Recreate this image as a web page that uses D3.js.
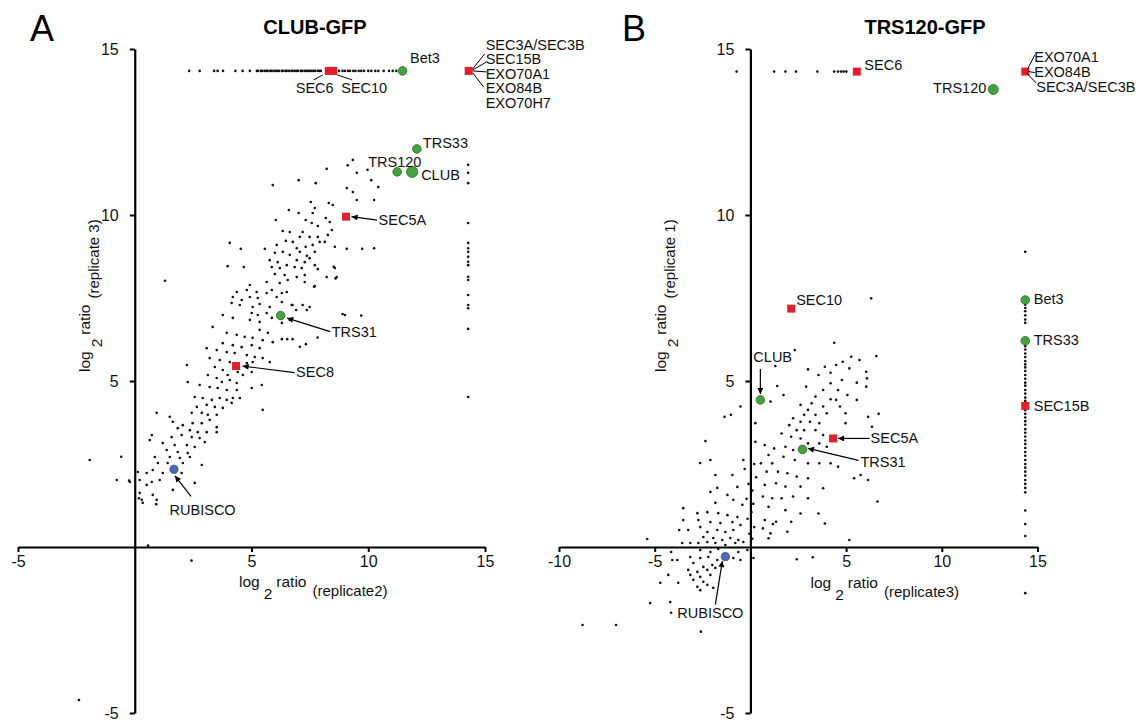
<!DOCTYPE html>
<html>
<head>
<meta charset="utf-8">
<script src="https://cdn.jsdelivr.net/npm/d3@7"></script>
<style>
  body { margin: 0; background: #fff; }
</style>
</head>
<body>
<div id="chart"></div>
<script>
// ---------- data (log2 ratios) ----------
var yDomain = [-5, 15];
var yTickValues = [-5, 5, 10, 15];
var xTicksA = [-5, 5, 10, 15];
var xTicksB = [-10, -5, 5, 10, 15];

// panel A : CLUB-GFP, replicate2 (x) vs replicate 3 (y)
var cloudA = [
  [9.34,11.66],[9.12,11.5],[8.22,11.39],[9.51,11.27],[5.91,10.9],[7.02,11.05],[7.75,10.96],[9.08,10.81],[9.34,10.69],[7.54,10.39],
  [8.31,10.36],[8.48,10.3],[7.71,10.21],[6.6,10.15],[7.02,10.06],[7.62,10.06],[9.51,10.45],[6.04,9.85],[7.32,9.85],[8.18,9.91],
  [8.35,9.79],[7.58,9.76],[7.84,9.67],[6.34,9.52],[6.64,9.49],[7.19,9.49],[8.44,9.55],[7.07,9.34],[7.49,9.34],[7.84,9.34],
  [8.27,9.4],[4.07,9.16],[4.54,8.98],[5.57,8.98],[6.08,9.1],[6.47,9.22],[6.77,9.19],[6.94,9.0],[7.32,9.04],[7.62,9.1],
  [7.92,9.19],[8.14,9.19],[8.57,9.04],[9.08,8.98],[6.0,8.86],[6.34,8.89],[6.64,8.8],[7.07,8.89],[7.37,8.77],[7.71,8.89],
  [5.78,8.64],[6.12,8.58],[6.94,8.64],[7.28,8.58],[7.49,8.7],[3.98,8.46],[4.67,8.43],[5.87,8.43],[6.21,8.4],[6.51,8.49],
  [6.85,8.43],[7.15,8.4],[7.71,8.49],[7.84,8.37],[8.57,8.4],[6.0,8.22],[6.42,8.19],[6.94,8.13],[7.28,8.19],[8.22,8.13],
  [8.65,8.13],[5.65,7.98],[6.21,7.95],[6.55,8.04],[7.28,7.98],[7.71,7.86],[4.93,7.89],[4.37,7.68],[4.8,7.74],[5.22,7.68],
  [5.65,7.65],[5.87,7.74],[6.08,7.53],[6.3,7.65],[6.51,7.68],[4.2,7.53],[4.58,7.44],[4.93,7.53],[5.27,7.5],[6.3,7.38],
  [4.15,7.35],[4.5,7.29],[5.05,7.23],[5.35,7.32],[5.78,7.23],[6.72,7.29],[7.19,7.29],[7.49,7.23],[5.01,7.05],[5.27,6.99],
  [5.65,7.05],[5.87,6.9],[3.77,6.99],[4.2,6.9],[4.93,6.84],[5.35,6.78],[6.64,6.84],[6.3,6.75],[9.0,6.99],[3.34,6.63],
  [9.97,11.36],[10.13,11.05],[10.43,10.84],[10.25,10.45],[9.74,8.98],[10.25,9.0],
  [1.3,8.02],[8.9,7.02],[9.7,6.97],[7.83,6.31],[7.33,6.11],[7.07,6.03],[6.53,6.26],[6.76,6.26],[6.3,6.26],[8.6,8.09],
  [7.68,7.84],[8.52,8.44],[7.37,7.14],[6.91,7.14],[6.76,7.29],
  [5.35,6.54],[5.7,6.45],[3.94,6.45],[4.37,6.39],[4.71,6.33],[5.05,6.3],[5.48,6.23],[5.91,6.17],[3.77,6.14],[4.2,6.08],
  [4.58,6.02],[5.01,6.08],[5.35,5.99],[3.08,5.99],[3.51,5.93],[3.94,5.87],[4.28,5.84],[4.8,5.78],[5.14,5.72],[5.48,5.69],
  [5.78,5.57],[3.21,5.69],[3.64,5.63],[4.07,5.57],[4.8,5.54],[5.05,5.57],[2.23,5.48],[3.43,5.42],[3.77,5.33],[3.98,5.18],
  [4.41,5.27],[4.63,5.18],[5.01,5.27],[3.13,5.18],[3.51,5.09],[3.73,4.97],[4.07,5.03],[4.37,4.94],[5.01,4.79],[5.44,4.88],
  [2.27,4.97],[2.78,4.88],[3.21,4.82],[3.55,4.79],[3.94,4.73],[4.37,4.73],[2.57,4.52],[2.91,4.49],[3.3,4.43],[3.64,4.49],
  [3.94,4.43],[4.2,4.49],[4.5,4.49],[2.66,4.22],[3.08,4.28],[3.43,4.22],[3.77,4.19],[4.15,4.34],[5.48,4.13],[0.94,4.04],
  [1.5,3.92],[2.44,4.04],[2.87,4.04],[3.13,3.98],[3.51,3.98],[1.63,3.77],[2.06,3.67],[2.48,3.73],[2.87,3.73],[3.21,3.83],
  [3.51,3.61],[1.84,3.58],[2.36,3.52],[2.7,3.46],[3.08,3.46],[3.51,3.46],[0.73,3.37],[1.58,3.31],[2.01,3.37],[2.44,3.31],
  [2.78,3.28],[3.0,3.16],[0.64,3.22],[1.2,3.13],[1.71,3.07],[2.23,3.07],[2.57,3.01],[1.37,2.92],[1.84,2.86],[2.27,2.83],
  [0.86,2.71],[1.5,2.71],[1.93,2.68],[2.36,2.71],[0.99,2.53],[1.41,2.53],[2.06,2.53],[2.87,2.47],[0.13,2.26],[0.51,2.23],
  [0.77,2.32],[1.2,2.23],[2.01,2.23],[0.21,2.02],[0.73,1.96],[1.07,2.02],[-0.21,1.96],[0.51,1.87],[2.57,1.93],[0.21,1.63],
  [0.77,1.57],[1.63,1.72],[0.3,1.42],[0.94,1.42],[0.34,1.33],
  [-1.93,2.62],[-0.58,2.72],[-0.77,2.02],[-0.24,2.0],[0.18,1.47],[0.92,1.29],
  [0.57,0.04],[2.43,-0.41],[-2.39,-4.61]
];
// proteins found only in the pull-down sit on the ceiling row / right column
var topLevelA = 14.34;
var topRowA = [2.33,2.78,3.4,3.55,3.78,4.31,4.62,4.93,
  5.23,5.28,5.4,5.44,5.55,5.63,5.69,5.8,5.86,5.95,6.04,6.1,6.18,6.3,6.34,6.45,6.51,6.6,6.71,6.76,6.85,6.93,
  7.0,7.12,7.16,7.27,7.35,7.41,7.5,7.58,7.66,7.72,7.83,7.9,7.97,
  8.75,8.9,9.0,9.13,9.22,9.36,9.45,9.59,9.7,9.82,10.0,10.13,10.3,10.43,10.66,10.89,11.05,11.2];
var columnXA = 14.28;
var columnA = [11.51,11.27,10.96,9.76,9.16,9.0,8.89,8.74,8.59,8.49,8.14,8.04,7.59,7.29,7.19,6.57,4.52];

// name, x, y, complex
var markersA = [
  ['SEC6', 8.31, 14.34, 'exocyst'],
  ['SEC10', 8.5, 14.34, 'exocyst'],
  ['Bet3', 11.47, 14.34, 'trapp'],
  ['SEC3A/SEC3B', 14.3, 14.34, 'exocyst'],
  ['TRS33', 12.08, 11.99, 'trapp'],
  ['TRS120', 11.24, 11.3, 'trapp'],
  ['CLUB', 11.88, 11.3, 'trapp'],
  ['SEC5A', 9.05, 9.95, 'exocyst'],
  ['TRS31', 6.25, 6.97, 'trapp'],
  ['SEC8', 4.34, 5.45, 'exocyst'],
  ['RUBISCO', 1.68, 2.34, 'rubisco']
];

// panel B : TRS120-GFP, replicate3 (x) vs replicate 1 (y)
var cloudB = [
  [6.31,7.49],[4.38,6.15],[2.32,5.93],[5.27,5.73],[5.7,5.63],[6.58,5.75],[4.82,5.58],[4.48,5.48],[3.89,5.43],[3.01,5.35],
  [1.3,5.45],[3.56,5.18],[4.19,5.25],[5.17,5.38],[6.05,5.28],[6.09,5.08],[4.19,4.93],[4.78,5.03],[5.56,4.95],[6.05,4.83],
  [2.91,4.83],[1.4,4.85],[3.8,4.73],[4.58,4.73],[5.07,4.58],[3.4,4.53],[1.73,4.58],[4.19,4.45],[4.48,4.43],[5.56,4.43],
  [1.05,4.38],[3.2,4.33],[2.62,4.28],[3.8,4.23],[4.68,4.23],[-0.52,4.23],[-1.02,3.98],[-1.35,3.92],[6.7,4.01],[6.15,3.92],
  [3.01,4.13],[2.81,3.98],[3.4,3.98],[3.99,4.03],[4.97,4.03],[2.23,3.88],[2.62,3.77],[3.11,3.77],[3.6,3.73],[4.97,3.73],
  [2.03,3.67],[2.42,3.52],[2.81,3.52],[3.4,3.52],[3.8,3.37],[0.26,3.73],[1.63,3.42],[2.13,3.32],[2.62,3.27],
  [3.01,3.12],[3.6,3.12],[3.99,3.02],[6.35,3.62],[-2.35,3.19],[0.26,3.17],[0.75,3.07],[1.24,2.97],[1.83,3.02],[2.23,2.92],
  [1.73,2.72],[2.32,2.62],[3.01,2.52],[3.6,2.52],[4.19,2.52],[4.58,2.42],[0.95,2.77],[0.55,2.52],[1.14,2.52],
  [-2.09,2.62],[-0.37,2.62],
  [0.85,2.27],[1.44,2.27],[1.93,2.22],[2.42,2.12],[3.01,2.07],[5.76,2.17],[6.15,2.02],[5.42,2.07],
  [0.75,1.87],[1.34,1.92],[1.83,1.82],[2.62,1.82],[3.8,1.77],[0.65,1.52],[1.14,1.47],[1.63,1.47],[2.23,1.52],[3.01,1.47],[6.64,1.37],
  [0.95,1.21],[1.83,1.11],[2.62,1.01],[3.56,1.01],[3.89,0.71],[0.75,0.81],[1.34,0.76],[0.65,0.56],[1.05,0.41],[1.93,0.46],
  [0.95,0.26],[5.17,0.21],
  [-2.62,2.53],[-1.83,2.17],[-0.94,2.17],[-1.73,1.78],[-2.09,1.66],[-1.2,1.57],[-0.68,1.81],[-0.89,1.42],[-0.42,1.27],[-1.83,1.33],
  [-3.51,1.17],[-2.77,1.02],[-2.25,1.05],[-1.68,1.02],[-1.2,0.96],[-0.68,0.9],[-3.51,0.81],[-2.72,0.81],[-2.09,0.75],[-1.57,0.72],
  [-0.94,0.75],[-0.52,0.66],[-3.72,0.51],[-3.25,0.51],[-2.62,0.6],[-2.25,0.45],[-1.73,0.51],[-1.31,0.45],[-0.89,0.51],[-2.46,0.3],
  [-1.94,0.27],[-1.47,0.21],[-1.05,0.27],[-0.63,0.21],[-5.39,0.24],[-3.56,0.12],[-3.14,0.12],[-2.72,0.12],[-2.25,0.15],[-1.83,0.12],
  [-1.31,0.06],[-0.79,0.12],[-0.37,0.15],[-4.14,-0.15],[-2.62,-0.09],[-2.09,-0.15],[-1.68,-0.06],[-0.63,-0.15],[-0.16,-0.09],[-3.14,-0.3],
  [-2.62,-0.33],[-2.2,-0.3],[-1.73,-0.39],[-0.89,-0.33],[-0.52,-0.39],[0.16,-0.33],[-4.08,-0.39],[-3.82,-0.39],[-2.98,-0.48],[-2.46,-0.6],
  [-1.99,-0.54],[-3.25,-0.69],[-2.77,-0.75],[-2.25,-0.69],[-1.83,-0.63],[-3.14,-0.84],[-2.62,-0.9],[-2.09,-0.84],[-4.29,-0.84],[-2.98,-0.99],
  [-2.46,-1.05],[-4.71,-1.08],[-3.77,-1.08],[-2.25,-1.14],[-2.77,-1.2],[-1.94,-1.23],[-2.62,-1.3],[-5.24,-1.69],[-4.19,-1.66],[-7.02,-2.35],
  [-4.14,-1.98],[-8.77,-2.35],[-2.59,-2.55],[2.42,-0.37],[3.26,-0.31],[2.13,0.76],[1.18,0.69],
  [-0.1,1.9],[0.1,1.7],[-0.2,1.45],[0.15,1.3],[0.05,1.05],[-0.15,0.85],[0.2,0.6],[-0.05,0.4],[0.1,0.25],[0.3,2.1],[-0.3,2.35],[0.2,2.5]
];
var topLevelB = 14.32;
var topRowB = [-0.72,1.24,1.83,2.38,3.5,4.38,4.58,4.74,4.87,5.01];
var columnXB = 14.36;
var columnB = [8.89,7.3,7.2,7.1,6.98,6.85,6.75,6.05,5.95,5.83,5.72,5.6,5.5,5.41,5.3,5.18,5.07,4.95,4.86,4.73,4.62,4.5,4.4,
  4.12,4.01,3.9,3.79,3.68,3.55,3.44,3.33,3.21,3.1,2.98,2.86,2.75,2.62,2.5,2.39,2.27,2.15,2.02,1.9,1.78,1.65,1.1,0.69,0.33,-1.39];

var markersB = [
  ['SEC6', 5.56, 14.32, 'exocyst'],
  ['EXO70A1', 14.36, 14.32, 'exocyst'],
  ['TRS120', 12.69, 13.78, 'trapp'],
  ['SEC10', 2.13, 7.18, 'exocyst'],
  ['Bet3', 14.36, 7.44, 'trapp'],
  ['TRS33', 14.36, 6.21, 'trapp'],
  ['SEC15B', 14.36, 4.25, 'exocyst'],
  ['CLUB', 0.52, 4.43, 'trapp'],
  ['SEC5A', 4.32, 3.27, 'exocyst'],
  ['TRS31', 2.72, 2.94, 'trapp'],
  ['RUBISCO', -1.31, -0.29, 'rubisco']
];

// ---------- annotation layout (pixel offsets from the marker) ----------
var labelsA = [
  { at: 'SEC6', text: 'SEC6', dx: -33, dy: 22, line: [-6, 4, -15, 9] },
  { at: 'SEC10', text: 'SEC10', dx: 8, dy: 22, line: [4, 4, 19, 9] },
  { at: 'Bet3', text: 'Bet3', dx: 7.5, dy: -8 },
  { at: 'SEC3A/SEC3B', text: 'SEC3A/SEC3B', dx: 17, dy: -21, line: [4, -2, 16, -17] },
  { at: 'SEC3A/SEC3B', text: 'SEC15B', dx: 17, dy: -6.5, line: [4, -1, 18, -9] },
  { at: 'SEC3A/SEC3B', text: 'EXO70A1', dx: 17, dy: 8, line: [4, 0, 18, 1] },
  { at: 'SEC3A/SEC3B', text: 'EXO84B', dx: 17, dy: 22.5, line: [4, 2, 15, 16] },
  { at: 'SEC3A/SEC3B', text: 'EXO70H7', dx: 17, dy: 37 },
  { at: 'TRS33', text: 'TRS33', dx: 6, dy: -1 },
  { at: 'TRS120', text: 'TRS120', dx: -29, dy: -5 },
  { at: 'CLUB', text: 'CLUB', dx: 9, dy: 8 },
  { at: 'SEC5A', text: 'SEC5A', dx: 32.5, dy: 8, arrow: [31, 3.5, 5.5, 0] },
  { at: 'TRS31', text: 'TRS31', dx: 51, dy: 21, arrow: [49.5, 16, 6.5, 2.5] },
  { at: 'SEC8', text: 'SEC8', dx: 60, dy: 11, arrow: [58.5, 6.5, 6.5, 0] },
  { at: 'RUBISCO', text: 'RUBISCO', dx: -4.4, dy: 46, arrow: [17, 27, 1, 6.5] }
];
var labelsB = [
  { at: 'SEC6', text: 'SEC6', dx: 7.5, dy: -1.5 },
  { at: 'EXO70A1', text: 'EXO70A1', dx: 9, dy: -9.5, line: [2, -2, 9.5, -16.5] },
  { at: 'EXO70A1', text: 'EXO84B', dx: 9, dy: 5.5, line: [3, 0, 9.5, 1] },
  { at: 'EXO70A1', text: 'SEC3A/SEC3B', dx: 11, dy: 20.5, line: [2, 2, 11, 11.5] },
  { at: 'TRS120', text: 'TRS120', dx: -7, dy: 3.5, anchor: 'end' },
  { at: 'Bet3', text: 'Bet3', dx: 8.5, dy: 4.5 },
  { at: 'TRS33', text: 'TRS33', dx: 8.5, dy: 4.5 },
  { at: 'SEC15B', text: 'SEC15B', dx: 8.5, dy: 5 },
  { at: 'SEC10', text: 'SEC10', dx: 5, dy: -3.5 },
  { at: 'CLUB', text: 'CLUB', dx: -7, dy: -38, arrow: [0, -31, 0, -6] },
  { at: 'SEC5A', text: 'SEC5A', dx: 37.5, dy: 4.5, arrow: [36.5, 0, 5, 0] },
  { at: 'TRS31', text: 'TRS31', dx: 58, dy: 17.5, arrow: [56, 11, 5.5, -1] },
  { at: 'RUBISCO', text: 'RUBISCO', dx: -48, dy: 61.5, arrow: [-10, 48, -3, 4.5] }
];

var FONT = "'Liberation Sans', Arial, Helvetica, sans-serif";
var colors = {
  dot: '#111',
  exocyst: '#e3202a',
  trapp: '#45a33f', trappStroke: '#24691f',
  rubisco: '#4d68b8', rubiscoStroke: '#2c4996'
};
var bigCircles = { 'A:CLUB': 5.6, 'B:TRS120': 5 };

var svg = d3.select('#chart').append('svg')
  .attr('width', 1148).attr('height', 722)
  .style('font-family', FONT);
svg.append('rect').attr('width', 1148).attr('height', 722).attr('fill', '#fff');

svg.append('defs').append('marker')
  .attr('id', 'arrowhead')
  .attr('viewBox', '0 0 10 10')
  .attr('refX', 10).attr('refY', 5)
  .attr('markerUnits', 'userSpaceOnUse')
  .attr('markerWidth', 8).attr('markerHeight', 6)
  .attr('orient', 'auto')
  .append('path').attr('d', 'M0,0L10,5L0,10Z').attr('fill', '#000');

var panels = [
  {
    id: 'A', title: 'CLUB-GFP', letterX: 30, titleX: 315,
    xDomain: [-5, 15], xRange: [18, 485], xTicks: xTicksA,
    cloud: cloudA, topLevel: topLevelA, topRow: topRowA, columnX: columnXA, column: columnA,
    markers: markersA, labels: labelsA,
    xTitle: { x: 239, y: 587, tail: '(replicate2)' },
    yTitle: { x: 90, y: 372, tail: '(replicate 3)' }
  },
  {
    id: 'B', title: 'TRS120-GFP', letterX: 622, titleX: 925,
    xDomain: [-10, 15], xRange: [559, 1037.5], xTicks: xTicksB,
    cloud: cloudB, topLevel: topLevelB, topRow: topRowB, columnX: columnXB, column: columnB,
    markers: markersB, labels: labelsB,
    xTitle: { x: 810.5, y: 588, tail: '(replicate3)' },
    yTitle: { x: 665.5, y: 372, tail: '(replicate 1)' }
  }
];

panels.forEach(drawPanel);

function drawPanel(p) {
  var x = d3.scaleLinear().domain(p.xDomain).range(p.xRange);
  var y = d3.scaleLinear().domain(yDomain).range([713, 49]);
  var g = svg.append('g').attr('class', 'panel-' + p.id);

  // panel letter + title
  g.append('text').attr('x', p.letterX).attr('y', 41)
    .attr('font-size', 36).text(p.id);
  g.append('text').attr('x', p.titleX).attr('y', 34)
    .attr('text-anchor', 'middle').attr('font-size', 20).attr('font-weight', 'bold')
    .text(p.title);

  // axes crossing at the origin
  var xAxis = g.append('g').attr('transform', 'translate(0,' + y(0) + ')')
    .call(d3.axisBottom(x).tickValues(p.xTicks).tickSize(5).tickSizeOuter(0)
      .tickPadding(4).tickFormat(function (d) { return String(d); }));
  var yAxis = g.append('g').attr('transform', 'translate(' + x(0) + ',0)')
    .call(d3.axisLeft(y).tickValues(yTickValues).tickSize(5).tickSizeOuter(0)
      .tickPadding(11).tickFormat(function (d) { return String(d); }));
  [xAxis, yAxis].forEach(function (a) {
    a.attr('font-family', FONT).attr('font-size', 16);
    a.select('.domain').attr('stroke', '#000').attr('stroke-width', 2.2);
    a.selectAll('.tick line').attr('stroke', '#000').attr('stroke-width', 2);
    a.selectAll('.tick text').attr('fill', '#111');
  });

  axisTitle(g, p.xTitle, false);
  axisTitle(g, p.yTitle, true);

  // small black dots
  var dots = p.cloud
    .concat(p.topRow.map(function (v) { return [v, p.topLevel]; }))
    .concat(p.column.map(function (v) { return [p.columnX, v]; }));
  g.append('g').selectAll('circle').data(dots).join('circle')
    .attr('cx', function (d) { return x(d[0]); })
    .attr('cy', function (d) { return y(d[1]); })
    .attr('r', 1.3)
    .attr('fill', colors.dot);

  // highlighted proteins
  var pos = {};
  p.markers.forEach(function (m) { pos[m[0]] = [x(m[1]), y(m[2])]; });

  var mg = g.append('g');
  mg.selectAll('rect').data(p.markers.filter(function (m) { return m[3] === 'exocyst'; })).join('rect')
    .attr('x', function (m) { return x(m[1]) - 4; })
    .attr('y', function (m) { return y(m[2]) - 4; })
    .attr('width', 8).attr('height', 8)
    .attr('fill', colors.exocyst);
  mg.selectAll('circle.trapp').data(p.markers.filter(function (m) { return m[3] === 'trapp'; })).join('circle')
    .attr('class', 'trapp')
    .attr('cx', function (m) { return x(m[1]); })
    .attr('cy', function (m) { return y(m[2]); })
    .attr('r', function (m) { return bigCircles[p.id + ':' + m[0]] || 4.3; })
    .attr('fill', colors.trapp).attr('stroke', colors.trappStroke).attr('stroke-width', 0.8);
  mg.selectAll('path.rubisco').data(p.markers.filter(function (m) { return m[3] === 'rubisco'; })).join('path')
    .attr('class', 'rubisco')
    .attr('transform', function (m) { return 'translate(' + x(m[1]) + ',' + y(m[2]) + ')'; })
    .attr('d', d3.symbol().type(d3.symbolCircle).size(52))
    .attr('fill', colors.rubisco).attr('stroke', colors.rubiscoStroke).attr('stroke-width', 0.8);

  // labels, leader lines and arrows
  var lg = g.append('g').attr('font-size', 14.5).attr('fill', '#111');
  p.labels.forEach(function (l) {
    var c = pos[l.at];
    if (l.line) {
      lg.append('line')
        .attr('x1', c[0] + l.line[0]).attr('y1', c[1] + l.line[1])
        .attr('x2', c[0] + l.line[2]).attr('y2', c[1] + l.line[3])
        .attr('stroke', '#000').attr('stroke-width', 1);
    }
    if (l.arrow) {
      lg.append('line')
        .attr('x1', c[0] + l.arrow[0]).attr('y1', c[1] + l.arrow[1])
        .attr('x2', c[0] + l.arrow[2]).attr('y2', c[1] + l.arrow[3])
        .attr('stroke', '#000').attr('stroke-width', 1.2)
        .attr('marker-end', 'url(#arrowhead)');
    }
    lg.append('text')
      .attr('x', c[0] + l.dx).attr('y', c[1] + l.dy)
      .attr('text-anchor', l.anchor || 'start')
      .text(l.text);
  });
}

// "log 2 ratio (replicateN)" with the 2 set low
function axisTitle(g, t, rotated) {
  var txt = g.append('text').attr('font-size', 15.5).attr('fill', '#111');
  if (rotated) {
    txt.attr('transform', 'translate(' + t.x + ',' + t.y + ') rotate(-90)');
  } else {
    txt.attr('x', t.x).attr('y', t.y);
  }
  txt.append('tspan').text('log');
  txt.append('tspan').attr('dx', 4).attr('dy', 12).text('2');
  txt.append('tspan').attr('dx', 4).attr('dy', -12).text('ratio');
  txt.append('tspan').attr('dx', 6).attr('dy', 9).attr('font-size', 15).text(t.tail);
}
</script>
</body>
</html>
